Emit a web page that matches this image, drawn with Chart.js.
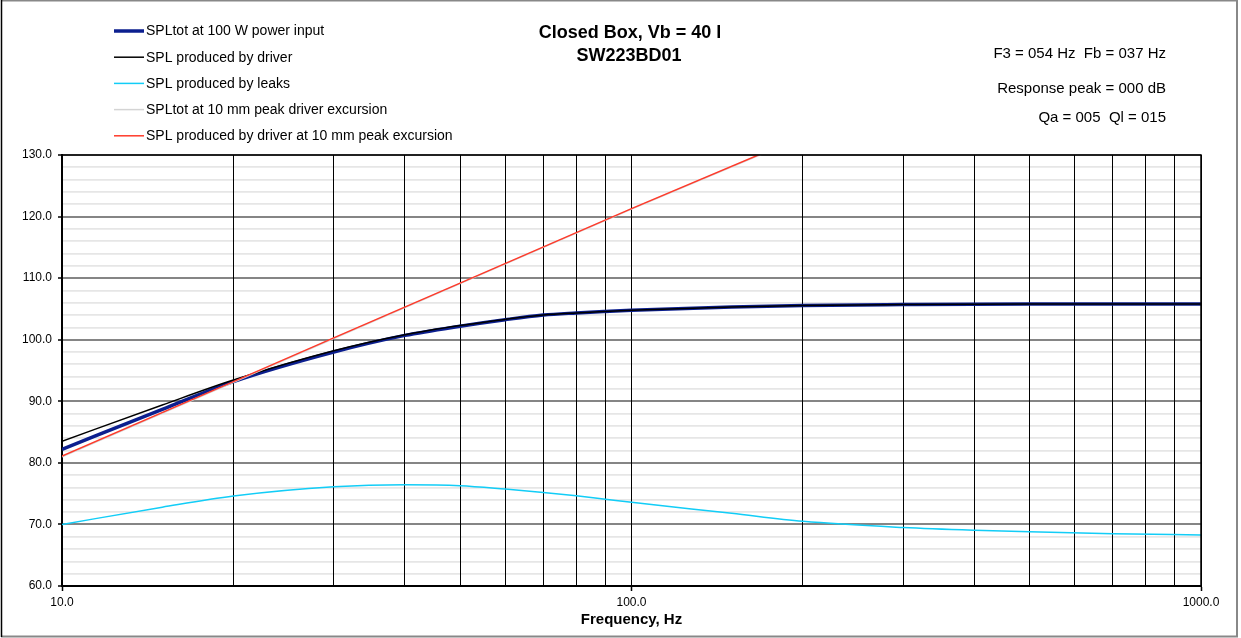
<!DOCTYPE html>
<html>
<head>
<meta charset="utf-8">
<script src="https://cdn.jsdelivr.net/npm/chart.js@4.4.1/dist/chart.umd.min.js"></script>
<style>
html,body{margin:0;padding:0;background:#fff;}
#wrap{position:relative;width:1241px;height:638px;}
</style>
</head>
<body>
<div id="wrap"><canvas id="c"></canvas></div>
<script>
// ---- Data ----
const titleLines = ["Closed Box, Vb = 40 l", "SW223BD01"];
const infoLines = ["F3 = 054 Hz  Fb = 037 Hz", "Response peak = 000 dB", "Qa = 005  Ql = 015"];
const xAxisTitle = "Frequency, Hz";
const seriesNames = [
  "SPLtot at 100 W power input",
  "SPL produced by driver",
  "SPL produced by leaks",
  "SPLtot at 10 mm peak driver excursion",
  "SPL produced by driver at 10 mm peak excursion"
];

const freqMain = [10, 15, 20, 30, 40, 50, 60, 70, 80, 90, 100, 150, 200, 300, 500, 1000];
const splTot   = [82.2, 88.7, 93.2, 98.0, 100.7, 102.2, 103.25, 104.0, 104.35, 104.6, 104.8, 105.3, 105.55, 105.7, 105.8, 105.8];
const splDrv   = [83.5, 89.4, 93.45, 98.2, 100.8, 102.3, 103.3, 104.0, 104.35, 104.6, 104.8, 105.3, 105.55, 105.7, 105.8, 105.8];

const freqLeak = [10, 15, 20, 30, 40, 50, 60, 70, 80, 90, 100, 150, 200, 300, 400, 500, 700, 1000];
const splLeak  = [70.0, 72.8, 74.6, 76.1, 76.45, 76.3, 75.75, 75.2, 74.65, 74.1, 73.6, 71.8, 70.5, 69.5, 69.05, 68.8, 68.5, 68.3];

const freqXmax   = [10, 20, 30, 50, 100, 170];
const splDrvXmax = [81.1, 93.2, 100.3, 109.2, 121.3, 130.3];
const splTotXmax = [81.0, 93.1, 100.2, 109.1, 121.2, 130.2];

const xTickValues = [10,20,30,40,50,60,70,80,90,100,200,300,400,500,600,700,800,900,1000];
const xLabelValues = [10, 100, 1000];
const yMin = 60, yMax = 130, yStep = 2, yLabelStep = 10;

// ---- Helpers ----
const pts = (xs, ys) => xs.map((x, i) => ({x: x, y: ys[i]}));
const FONT = "'Liberation Sans', Arial, sans-serif";
const colors = ['#0c1f8f', '#000000', '#12cdf7', '#d4d4d4', '#ff3a2a'];
const widths = [3.5, 1.5, 1.5, 1.5, 1.5];

const datasets = [
  {label: seriesNames[0], data: pts(freqMain, splTot), borderColor: colors[0], borderWidth: widths[0], order: 4, cubicInterpolationMode: 'monotone'},
  {label: seriesNames[1], data: pts(freqMain, splDrv), borderColor: colors[1], borderWidth: widths[1], order: 3, cubicInterpolationMode: 'monotone'},
  {label: seriesNames[2], data: pts(freqLeak, splLeak), borderColor: colors[2], borderWidth: widths[2], order: 2, cubicInterpolationMode: 'monotone'},
  {label: seriesNames[3], data: pts(freqXmax, splTotXmax), borderColor: colors[3], borderWidth: widths[3], order: 1, tension: 0},
  {label: seriesNames[4], data: pts(freqXmax, splDrvXmax), borderColor: colors[4], borderWidth: widths[4], order: 0, tension: 0}
];
datasets.forEach(d => { d.pointRadius = 0; d.fill = false; d.backgroundColor = d.borderColor; });

const overlay = {
  id: 'overlay',
  afterDatasetsDraw(chart) {
    const {ctx, chartArea: a} = chart;
    ctx.save();
    ctx.strokeStyle = '#000';
    ctx.lineWidth = 1.5;
    ctx.beginPath();
    ctx.moveTo(a.left, a.top); ctx.lineTo(a.right, a.top); ctx.lineTo(a.right, a.bottom);
    ctx.stroke();
    ctx.restore();
  },
  afterDraw(chart) {
    const ctx = chart.ctx;
    ctx.save();
    // outer frame
    ctx.strokeStyle = '#888';
    ctx.lineWidth = 2;
    ctx.beginPath();
    ctx.moveTo(1, 0.5); ctx.lineTo(1237, 0.5); ctx.lineTo(1237, 636.5); ctx.lineTo(1, 636.5);
    ctx.stroke();
    ctx.strokeStyle = '#000';
    ctx.lineWidth = 1.5;
    ctx.beginPath(); ctx.moveTo(1.5, 0); ctx.lineTo(1.5, 637); ctx.stroke();

    // legend
    const ds = chart.data.datasets;
    const ly0 = 31, ldy = 26.2;
    ctx.textBaseline = 'middle';
    ctx.textAlign = 'left';
    ctx.font = '14px ' + FONT;
    ds.forEach((d, i) => {
      const y = ly0 + i * ldy;
      ctx.strokeStyle = d.borderColor;
      ctx.lineWidth = d.borderWidth;
      ctx.beginPath(); ctx.moveTo(114, y); ctx.lineTo(144, y); ctx.stroke();
      ctx.fillStyle = '#000';
      ctx.fillText(d.label, 146, y + 0.5);
    });

    // title
    ctx.textAlign = 'center';
    ctx.font = 'bold 18px ' + FONT;
    ctx.fillText(titleLines[0], 630, 33);
    ctx.fillText(titleLines[1], 629, 56);

    // info text
    ctx.textAlign = 'right';
    ctx.font = '15px ' + FONT;
    const iy = [54, 89, 118];
    infoLines.forEach((t, i) => ctx.fillText(t, 1166, iy[i]));
    ctx.restore();
  }
};

new Chart(document.getElementById('c'), {
  type: 'line',
  data: {datasets: datasets},
  options: {
    responsive: true,
    maintainAspectRatio: false,
    animation: false,
    events: [],
    layout: {padding: {left: 0, right: 40, top: 155, bottom: 0}},
    plugins: {legend: {display: false}, tooltip: {enabled: false}, title: {display: false}},
    scales: {
      x: {
        type: 'logarithmic',
        min: 10, max: 1000,
        afterBuildTicks: s => { s.ticks = xTickValues.map(v => ({value: v})); },
        afterFit: s => { s.height = 52; },
        ticks: {
          autoSkip: false, maxRotation: 0, minRotation: 0, padding: 4,
          color: '#000', font: {family: FONT, size: 12},
          callback: v => xLabelValues.includes(v) ? v.toFixed(1) : ''
        },
        grid: {
          color: '#000', lineWidth: 1, z: -1,
          tickLength: 5,
          tickColor: c => (c.tick && xLabelValues.includes(c.tick.value)) ? '#000' : 'rgba(0,0,0,0)',
          tickWidth: 1.5
        },
        border: {display: true, color: '#000', width: 2},
        title: {display: true, text: xAxisTitle, color: '#000', font: {family: FONT, size: 15, weight: 'bold'}, padding: {top: 2, bottom: 9}}
      },
      y: {
        type: 'linear',
        min: yMin, max: yMax,
        afterFit: s => { s.width = 62; },
        ticks: {
          stepSize: yStep, autoSkip: false, padding: 6,
          color: '#000', font: {family: FONT, size: 12},
          callback: v => (v % yLabelStep === 0) ? v.toFixed(1) : ''
        },
        grid: {
          z: -2,
          color: c => (c.tick && c.tick.value % yLabelStep === 0) ? '#858585' : '#e6e6e6',
          lineWidth: c => (c.tick && c.tick.value % yLabelStep === 0) ? 2 : 1.7,
          tickLength: 4,
          tickColor: c => (c.tick && c.tick.value % yLabelStep === 0) ? '#000' : 'rgba(0,0,0,0)',
          tickWidth: 1.5
        },
        border: {display: true, color: '#000', width: 2}
      }
    }
  },
  plugins: [overlay]
});
</script>
</body>
</html>
